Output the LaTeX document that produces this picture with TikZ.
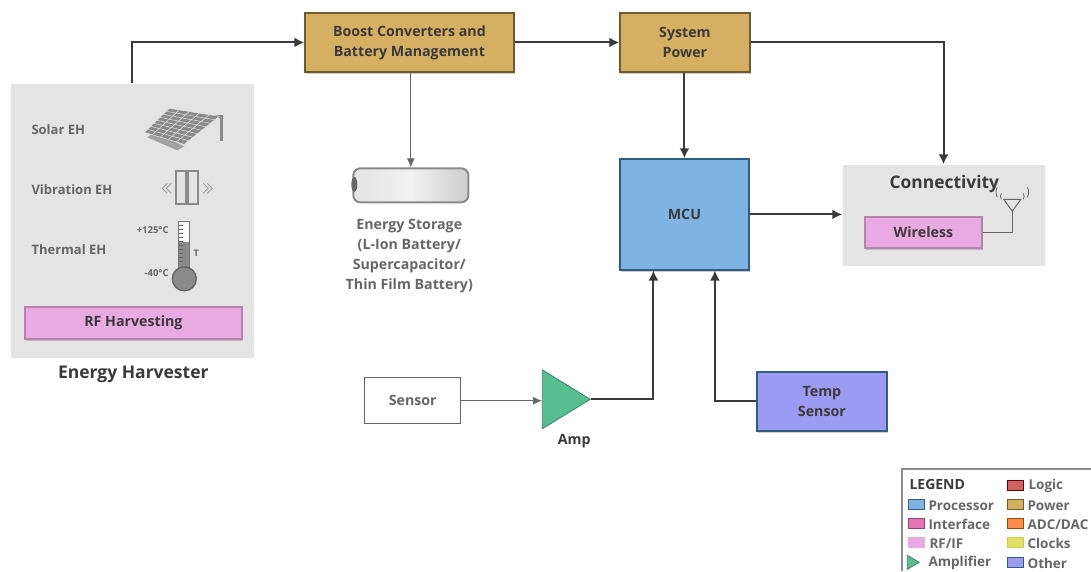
\documentclass[tikz,border=0pt]{standalone}
\usepackage{fontspec}
\setmainfont{Open Sans}
\usetikzlibrary{arrows.meta,calc,shadows,shapes.geometric}
\definecolor{powerc}{HTML}{D5AF62}
\definecolor{powerb}{HTML}{6E5C30}
\definecolor{mcuc}{HTML}{7EB3E2}
\definecolor{mcub}{HTML}{2F5F80}
\definecolor{rfc}{HTML}{E9A9E2}
\definecolor{rfb}{HTML}{B583AE}
\definecolor{ampc}{HTML}{57BE8F}
\definecolor{tempc}{HTML}{9B9BF2}
\definecolor{panelc}{HTML}{E4E4E4}
\definecolor{txt}{HTML}{3A3A3A}
\definecolor{grayt}{HTML}{666666}
\definecolor{icon}{HTML}{8A8A8A}
\tikzset{
  x=1pt,y=-1pt,
  lbl/.style={font=\fontsize{14.2}{20}\selectfont\bfseries,text=#1,align=center,inner sep=0},
  lbl/.default=txt,
  block/.style={draw=#1,line width=1.2pt,inner sep=0,anchor=north west,
    drop shadow={opacity=.4,shadow xshift=1.5pt,shadow yshift=-2.5pt},
    font=\fontsize{14.2}{20}\selectfont\bfseries,text=txt,align=center},
  panel/.style={fill=panelc,draw=none,inner sep=0,anchor=north west},
  heavy/.style={draw=txt,line width=2pt,-{Latex[length=10pt,width=10pt]}},
  light/.style={draw=grayt,line width=.8pt,-{Latex[length=9pt,width=8pt]}},
  eh/.style={font=\fontsize{13}{14}\selectfont\bfseries,text=grayt,anchor=west,inner sep=0},
  tiny/.style={font=\fontsize{9.5}{10}\selectfont\bfseries,text=grayt,inner sep=0},
  swatch/.style={draw=#1,line width=1.1pt,inner sep=0,anchor=north west,minimum width=16pt,minimum height=10pt},
  legt/.style={font=\fontsize{13.5}{15}\selectfont\bfseries,text=grayt,anchor=west,inner sep=0},
  iconl/.style={draw=icon,line width=1.3pt},
}
\begin{document}
\begin{tikzpicture}
\useasboundingbox (0.7,0.7) rectangle (1091.7,571.7);
% panels
\node[panel,minimum width=243pt,minimum height=274pt] (harv) at (11,84) {};
\node[panel,minimum width=202pt,minimum height=101pt] (conn) at (843,165) {};
% blocks
\node[block=powerb,fill=powerc,minimum width=209pt,minimum height=59pt] (boost) at (305,13) {Boost Converters and\\Battery Management};
\node[block=powerb,fill=powerc,minimum width=130pt,minimum height=59pt] (sys) at (620,13) {System\\Power};
\node[block=mcub,fill=mcuc,minimum width=129pt,minimum height=111pt] (mcu) at (620,159) {MCU};
\node[block=rfb,fill=rfc,minimum width=217pt,minimum height=32pt] (rf) at (25,307) {RF Harvesting};
\node[block=rfb,fill=rfc,minimum width=117pt,minimum height=31pt] (wl) at (865,217) {Wireless};
\node[draw=grayt,line width=.8pt,fill=white,inner sep=0,anchor=north west,minimum width=96pt,minimum height=46pt,lbl=grayt] (sensor) at (365,378) {Sensor};
\node[block=mcub,fill=tempc,minimum width=130pt,minimum height=59pt] (temp) at (757,372) {Temp\\Sensor};
\node[isosceles triangle,isosceles triangle stretches,minimum width=59pt,minimum height=48pt,inner sep=0,anchor=apex,draw=ampc!70!black,line width=.8pt,fill=ampc] (amp) at (592,400) {};
% battery
\node[draw=icon,line width=2pt,rounded corners=7pt,left color=panelc,right color=panelc!90!black,middle color=panelc!50!white,inner sep=0,anchor=north west,minimum width=115pt,minimum height=34pt] (bat) at (353,168) {};
\node[fill=grayt,ellipse,inner sep=0,minimum width=6pt,minimum height=15pt] (batcap) at (355,185) {};
% labels
\node[lbl=txt,font=\fontsize{17.5}{18}\selectfont\bfseries] (ehl) at (134,375.5) {Energy Harvester};
\node[lbl=txt,font=\fontsize{17.4}{19}\selectfont\bfseries] (connl) at (945,184.5) {Connectivity};
\node[lbl=grayt] (bl) at (410,257) {Energy Storage\\(L-Ion Battery/\\Supercapacitor/\\Thin Film Battery)};
\node[lbl=txt] (ampl) at (575,441.5) {Amp};
\node[eh] (solar) at (32,130) {Solar EH};
\node[eh] (vib) at (32,190) {Vibration EH};
\node[eh] (therm) at (32,250) {Thermal EH};
\node[tiny,anchor=east] (hi) at (169.5,231) {+125°C};
\node[tiny,anchor=east] (lo) at (169.5,274) {-40°C};
\node[tiny,font=\fontsize{9}{10}\selectfont\bfseries] (tl) at (197,254) {T};
% connectors
\draw[heavy] (harv.north) |- (boost.west);
\draw[heavy] (boost.east) -- (boost.east -| sys.west);
\draw[heavy] (sys.east) -| (conn.north);
\draw[heavy] (mcu.north |- sys.south) -- (mcu.north);
\draw[heavy] (mcu.east) -- (mcu.east -| conn.west);
\draw[light] (bat.north |- boost.south) -- (bat.north);
\draw[light] (sensor.east) -- (sensor.east -| amp.lower side);
\coordinate (mcuin1) at ($(mcu.south)+(-31,0)$);
\coordinate (mcuin2) at ($(mcu.south)+(30.5,0)$);
\draw[heavy] (amp.apex) -| (mcuin1);
\draw[heavy] (temp.west) -| (mcuin2);
% antenna
\coordinate (ant) at (1013,212);
\draw[draw=grayt,line width=1pt] (wl.east) -| (ant);
\draw[draw=grayt,line width=1pt,fill=panelc] (ant) -- (1004.5,200) -- (1021.5,200) -- cycle;
\draw[draw=grayt,line width=.8pt] (998,198) arc[start angle=150,end angle=210,radius=10];
\draw[draw=grayt,line width=.8pt] (1002,200) arc[start angle=150,end angle=210,radius=6];
\draw[draw=grayt,line width=.8pt] (1028,198) arc[start angle=30,end angle=-30,radius=10];
\draw[draw=grayt,line width=.8pt] (1024,200) arc[start angle=30,end angle=-30,radius=6];
% solar panel
\draw[iconl,line width=2.4pt] (208,117) -- (222,117) -- (222,142);
\fill[icon!80] (148,138) -- (155,133) -- (185,147) -- (178,151) -- cycle;
\fill[icon] (145,133) -- (170,109) -- (220,117) -- (185,145) -- cycle;
\foreach \t in {0,.125,...,1.01}{
  \draw[panelc,line width=.5pt] ($(145,133)!\t!(170,109)$) -- ($(185,145)!\t!(220,117)$);
}
\foreach \t in {0,.2,...,1.01}{
  \draw[panelc,line width=.5pt] ($(145,133)!\t!(185,145)$) -- ($(170,109)!\t!(220,117)$);
}
% vibration
\draw[iconl,line width=1.8pt] (177,172) rectangle (187,205);
\draw[iconl,line width=1.8pt] (189,172) rectangle (199,205);
\foreach \dx in {0,4}{
  \draw[icon!80,line width=.9pt] ($(168,184)+(\dx,0)$) -- ($(163,189)+(\dx,0)$) -- ($(168,194)+(\dx,0)$);
  \draw[icon!80,line width=.9pt] ($(204,184)+(\dx,0)$) -- ($(209,189)+(\dx,0)$) -- ($(204,194)+(\dx,0)$);
}
% thermometer
\fill[white!85!panelc] (179.5,222) rectangle (190,243);
\fill[icon] (179.5,243) rectangle (190,272);
\draw[draw=grayt!90,line width=1.3pt] (179.5,270) -- (179.5,222) -- (190,222) -- (190,270);
\foreach \y in {226,230,...,262}{\draw[grayt,line width=.3pt] (180,\y) -- (184,\y);}
\draw[draw=grayt,line width=1.4pt,fill=icon] (185,279.5) circle[radius=12];
% legend
\draw[draw=icon,line width=1.6pt] (902.5,572) -- (902.5,469.5) -- (1092,469.5);
\node[legt,text=txt,font=\fontsize{14}{15}\selectfont\bfseries] (legh) at (910,485) {LEGEND};
\node[swatch=mcub,fill=mcuc] (s1) at (909,500) {};
\node[legt] (t1) at (929,506) {Processor};
\node[swatch=black!50!magenta,fill=magenta!60!white!85!gray] (s2) at (909,519) {};
\node[legt] (t2) at (929,525) {Interface};
\node[swatch=rfc,fill=rfc] (s3) at (909,538) {};
\node[legt] (t3) at (930,544) {RF/IF};
\node[isosceles triangle,isosceles triangle stretches,minimum width=14pt,minimum height=12pt,inner sep=0,draw=ampc!70!black,line width=.8pt,fill=ampc,anchor=apex] (s4) at (921,563) {};
\node[legt] (t4) at (929,564) {Amplifier};
\node[swatch=red!40!black,fill=red!55!gray!80] (r1) at (1008,481) {};
\node[legt] (u1) at (1029,487) {Logic};
\node[swatch=powerb,fill=powerc] (r2) at (1008,500) {};
\node[legt] (u2) at (1028,506) {Power};
\node[swatch=orange!60!black,fill=orange!70!red!70] (r3) at (1008,519) {};
\node[legt] (u3) at (1028,525) {ADC/DAC};
\node[swatch=yellow!60!gray,fill=yellow!70!gray!80] (r4) at (1008,538) {};
\node[legt] (u4) at (1028,544) {Clocks};
\node[swatch=mcub,fill=tempc] (r5) at (1008,558) {};
\node[legt] (u5) at (1028,564) {Other};
\end{tikzpicture}
\end{document}
